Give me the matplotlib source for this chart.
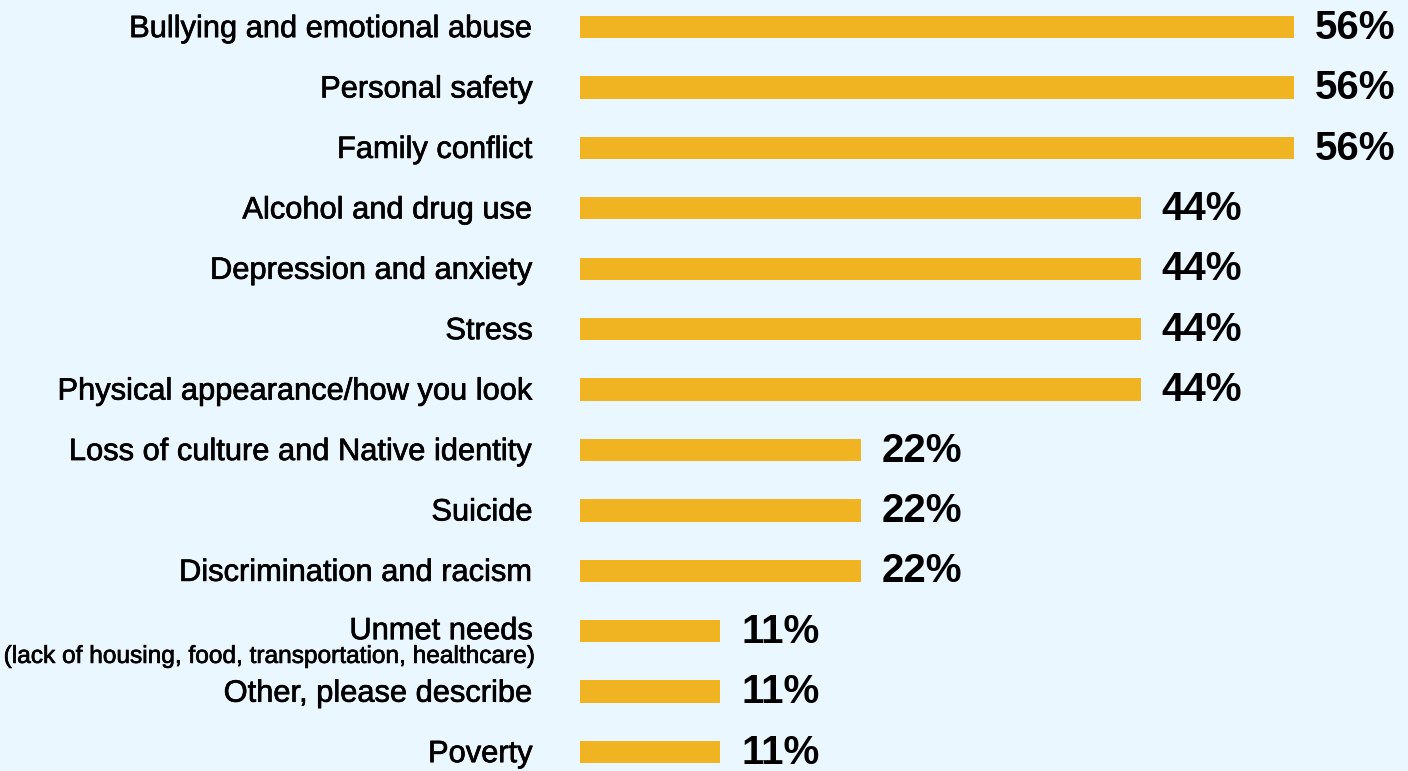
import matplotlib.pyplot as plt
import matplotlib.patheffects as pe

plt.rcParams['font.family'] = ['Liberation Sans', 'DejaVu Sans']

# survey responses, top to bottom
categories = [
    "Bullying and emotional abuse",
    "Personal safety",
    "Family conflict",
    "Alcohol and drug use",
    "Depression and anxiety",
    "Stress",
    "Physical appearance/how you look",
    "Loss of culture and Native identity",
    "Suicide",
    "Discrimination and racism",
    "Unmet needs",
    "Other, please describe",
    "Poverty",
]
values = [56, 56, 56, 44, 44, 44, 44, 22, 22, 22, 11, 11, 11]
sublabels = {"Unmet needs": "(lack of housing, food, transportation, healthcare)"}

bg = '#EBF7FE'
bar_color = '#F0B322'
# slightly heavier than the regular weight
medium = [pe.withStroke(linewidth=0.5, foreground='black')]

fig = plt.figure(figsize=(14.08, 7.71), dpi=100)
fig.patch.set_facecolor(bg)
ax = fig.add_axes([580 / 1408, 0, 1 - 580 / 1408, 1])
ax.set_facecolor(bg)

pos = list(range(len(categories)))
ax.barh(pos, values, height=0.37, color=bar_color, zorder=2)

ax.set_xlim(0, (1408 - 580) / 12.75)
ax.set_ylim((771 - 27) / 60.42, -27 / 60.42)
for s in ax.spines.values():
    s.set_visible(False)
ax.set_xticks([])
ax.set_yticks([])
ax.axvline(-0.12, color='#D8D8D8', lw=2.2, zorder=1)

for i, (cat, v) in enumerate(zip(categories, values)):
    ax.annotate(f"{v}%", xy=(v, i), xytext=(15, -0.5), textcoords='offset points',
                ha='left', va='center', fontsize=29, fontweight='bold', color='black')
    if cat in sublabels:
        ax.annotate(cat, xy=(0, i), xytext=(-34, 0), textcoords='offset points',
                    ha='right', va='center', fontsize=22.2, color='black',
                    annotation_clip=False, path_effects=medium)
        ax.annotate(sublabels[cat], xy=(0, i), xytext=(-34, -18.5), textcoords='offset points',
                    ha='right', va='center', fontsize=17.6, color='black',
                    annotation_clip=False, path_effects=medium)
    else:
        ax.annotate(cat, xy=(0, i), xytext=(-34, -1.5), textcoords='offset points',
                    ha='right', va='center', fontsize=22.2, color='black',
                    annotation_clip=False, path_effects=medium)

fig.savefig('out.png', dpi=100, facecolor=bg)
